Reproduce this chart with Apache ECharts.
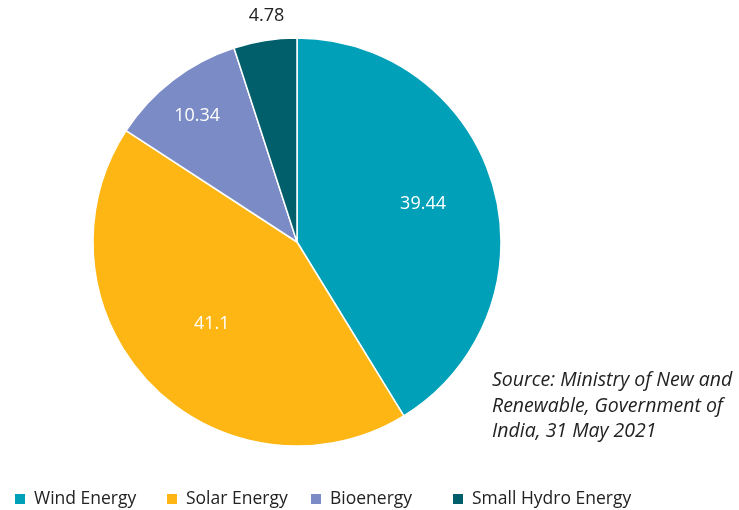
<!DOCTYPE html>
<html><head><meta charset="utf-8">
<script src="https://cdn.jsdelivr.net/npm/echarts@6/dist/echarts.min.js"></script>
<style>html,body{margin:0;padding:0;background:#fff}#c{width:739px;height:510px}</style>
</head><body><div id="c"></div>
<script>
var categories = ['Wind Energy', 'Solar Energy', 'Bioenergy', 'Small Hydro Energy'];
var values = [39.44, 41.1, 10.34, 4.78];
var colors = ['#00A0B8', '#FDB614', '#7A8BC6', '#015F6C'];
var labelOffsets = [[25, -10], [-10, 9], [-36, -43], [-14, -122]];
var labelColors = ['#fff', '#fff', '#fff', '#222'];
var legendLeft = [13, 165, 309, 451];
var FONT = 'Open Sans';

var chart = echarts.init(document.getElementById('c'));
var data = categories.map(function (n, i) {
  return {
    name: n, value: values[i],
    itemStyle: { color: colors[i] },
    label: { offset: labelOffsets[i], color: labelColors[i] }
  };
});
var legends = categories.map(function (n, i) {
  return {
    data: [n], left: legendLeft[i], top: 490, itemWidth: 12, itemHeight: 12, itemGap: 0,
    icon: 'rect', padding: 0,
    textStyle: { fontFamily: FONT, fontSize: 17.5, color: '#222', padding: [0, 0, 0, 3] }
  };
});
chart.setOption({
  animation: false,
  color: colors,
  legend: legends,
  graphic: [{
    type: 'text', left: 492, top: 368,
    style: {
      text: 'Source: Ministry of New and\nRenewable, Government of\nIndia, 31 May 2021',
      font: 'italic 19.5px "Open Sans"', fill: '#222', lineHeight: 25.5
    }
  }],
  series: [{
    type: 'pie',
    center: [297, 242],
    radius: [0, 204],
    startAngle: 90,
    clockwise: true,
    avoidLabelOverlap: false,
    label: {
      show: true, position: 'inside', fontFamily: FONT, fontSize: 18,
      formatter: function (p) { return p.value; }
    },
    labelLine: { show: false },
    itemStyle: { borderColor: '#fff', borderWidth: 1.5 },
    emphasis: { disabled: true },
    data: data
  }]
});
</script></body></html>
